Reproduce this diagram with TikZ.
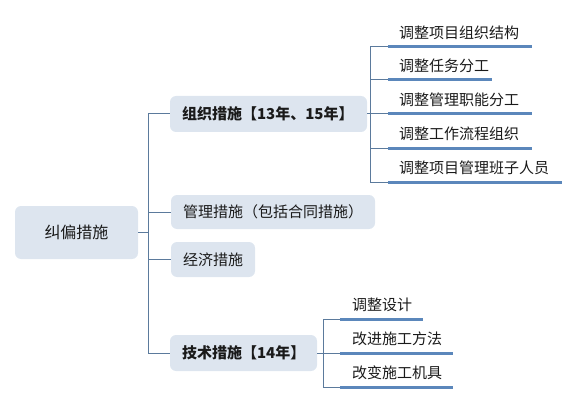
\documentclass[tikz,border=0pt]{standalone}
\usepackage{fontspec}
\setmainfont{Noto Sans CJK SC}
\definecolor{boxfill}{HTML}{DDE5EF}
\definecolor{linecol}{HTML}{5B7A9C}
\definecolor{ulcol}{HTML}{5B87BB}
\definecolor{txtcol}{HTML}{1A1A1A}
\begin{document}
\begin{tikzpicture}[x=1pt,y=-1pt,
  mbox/.style={fill=boxfill,draw=none,rounded corners=6pt,inner sep=0pt,
    font=\fontsize{15}{18}\selectfont,text=txtcol},
  child/.style={anchor=south west,inner xsep=0pt,inner ysep=0pt,minimum height=28pt,
    font=\fontsize{15}{18}\selectfont,text=txtcol},
  conn/.style={draw=linecol,line width=1pt},
  uline/.style={draw=ulcol,line width=3pt}]
\useasboundingbox (0,0) rectangle (579,404);
% main boxes
\node[mbox,minimum width=123pt,minimum height=53pt,font=\fontsize{16}{19}\selectfont] (root) at (76.5,232.5) {纠偏措施};
\node[mbox,minimum width=197pt,minimum height=36pt,text width=173pt,align=left,font=\fontsize{15}{18}\selectfont\bfseries] (org) at (268.5,114) {组织措施【13年、15年】};
\node[mbox,minimum width=204pt,minimum height=34pt,text width=180pt,align=left] (mgmt) at (273,212) {管理措施（包括合同措施）};
\node[mbox,minimum width=84pt,minimum height=35pt,text width=60pt,align=left] (econ) at (213,259.5) {经济措施};
\node[mbox,minimum width=147pt,minimum height=36pt,text width=123pt,align=left,font=\fontsize{15}{18}\selectfont\bfseries] (tech) at (243.5,353) {技术措施【14年】};
% trunk
\coordinate (trunk) at (148,232.5);
\draw[conn] (root.east) -- (trunk);
\draw[conn] (trunk) |- (org.west);
\draw[conn] (trunk) |- (mgmt.west);
\draw[conn] (trunk) |- (econ.west);
\draw[conn] (trunk) |- (tech.west);
% organisation children
\node[child,text width=144pt] (o1) at (388,46.7) {\hspace*{11pt}调整项目组织结构};
\node[child,text width=104pt] (o2) at (388,80) {\hspace*{11pt}调整任务分工};
\node[child,text width=144pt] (o3) at (388,114) {\hspace*{11pt}调整管理职能分工};
\node[child,text width=144pt] (o4) at (388,148) {\hspace*{11pt}调整工作流程组织};
\node[child,text width=174pt] (o5) at (388,182) {\hspace*{11pt}调整项目管理班子人员};
\foreach \n in {o1,o2,o3,o4,o5}{\draw[uline] (\n.south west) -- (\n.south east);}
\coordinate (ob) at (370,114);
\draw[conn] (org.east) -- (ob);
\foreach \n in {o1,o2,o3,o4,o5}{\draw[conn] (ob) |- (\n.south west);}
% technical children
\node[child,text width=83pt] (t1) at (340,319) {\hspace*{12pt}调整设计};
\node[child,text width=113pt] (t2) at (340,353) {\hspace*{12pt}改进施工方法};
\node[child,text width=113pt] (t3) at (340,387) {\hspace*{12pt}改变施工机具};
\foreach \n in {t1,t2,t3}{\draw[uline] (\n.south west) -- (\n.south east);}
\coordinate (tb) at (323,353);
\draw[conn] (tech.east) -- (tb);
\foreach \n in {t1,t2,t3}{\draw[conn] (tb) |- (\n.south west);}
\end{tikzpicture}
\end{document}
